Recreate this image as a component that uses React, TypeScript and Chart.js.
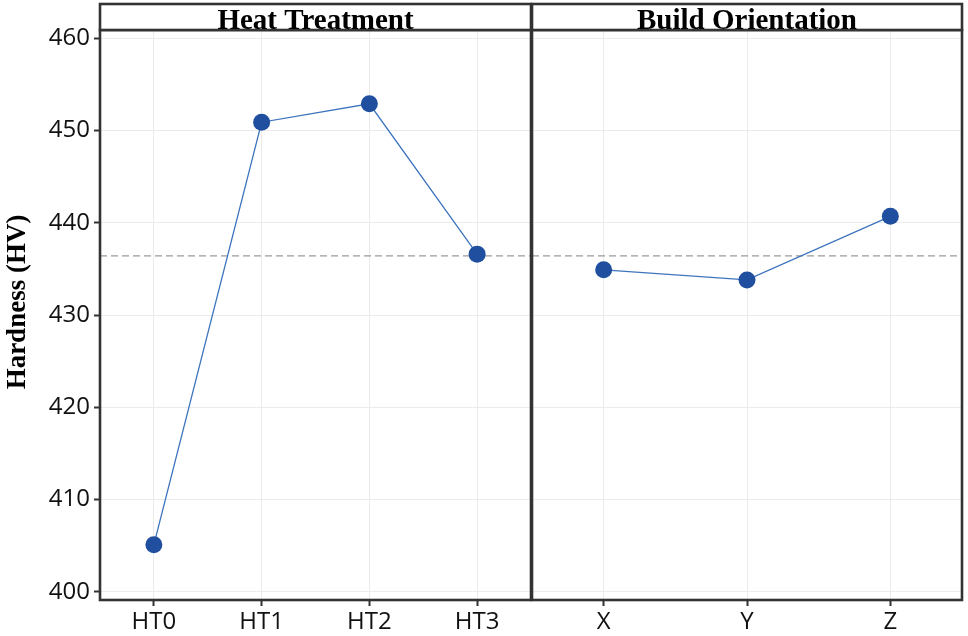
import React, { useEffect, useRef } from "react";
import { Chart, registerables } from "chart.js";

Chart.register(...registerables);

const heatCategories = ["HT0", "HT1", "HT2", "HT3"];
const heatValues = [405.1, 450.9, 452.9, 436.6];
const orientCategories = ["X", "Y", "Z"];
const orientValues = [434.9, 433.8, 440.7];
const grandMean = 436.4;
const yTickValues = [400, 410, 420, 430, 440, 450, 460];
const panelTitles = ["Heat Treatment", "Build Orientation"];
const yAxisTitle = "Hardness (HV)";

const Y_MIN = 399.1;
const Y_MAX = 460.9;
const FRAME = "#333333";
const GRID = "#ebebeb";
const LINE = "#3d74bd";
const POINT = "#1f4f9e";
const TICK_FONT = { family: "'Open Sans', 'Noto Sans', sans-serif", size: 24 };

function makePanelPlugin(title: string, drawYTitle: boolean) {
  return {
    id: "panel_" + title.replace(/\s/g, ""),
    beforeDatasetsDraw(chart: any) {
      const { ctx, chartArea, scales } = chart;
      const y = scales.y.getPixelForValue(grandMean);
      ctx.save();
      ctx.strokeStyle = "#9a9a9a";
      ctx.lineWidth = 1.3;
      ctx.setLineDash([7, 4]);
      ctx.beginPath();
      ctx.moveTo(chartArea.left, y);
      ctx.lineTo(chartArea.right, y);
      ctx.stroke();
      ctx.restore();
    },
    afterDraw(chart: any) {
      const { ctx, chartArea } = chart;
      const { left, right, top, bottom } = chartArea;
      ctx.save();
      ctx.strokeStyle = FRAME;
      ctx.lineWidth = 2.6;
      ctx.strokeRect(left, top, right - left, bottom - top);
      // strip
      ctx.fillStyle = "#ffffff";
      ctx.fillRect(left, 4, right - left, top - 4);
      ctx.strokeRect(left, 4, right - left, top - 4);
      ctx.fillStyle = "#000000";
      ctx.font = "bold 29px 'Liberation Serif', 'Times New Roman', serif";
      ctx.textAlign = "center";
      ctx.textBaseline = "alphabetic";
      ctx.fillText(title, (left + right) / 2, top - 1);
      if (drawYTitle) {
        ctx.translate(18, 302);
        ctx.rotate(-Math.PI / 2);
        ctx.font = "bold 27px 'Liberation Serif', 'Times New Roman', serif";
        ctx.textBaseline = "middle";
        ctx.fillText(yAxisTitle, 0, 0);
      }
      ctx.restore();
    },
  };
}

function makeConfig(labels: string[], values: number[], title: string, isLeft: boolean): any {
  return {
    type: "line",
    data: {
      labels,
      datasets: [
        {
          data: values,
          borderColor: LINE,
          borderWidth: 1.3,
          pointBackgroundColor: POINT,
          pointBorderColor: POINT,
          pointBorderWidth: 0,
          pointRadius: 8.5,
          tension: 0,
        },
      ],
    },
    options: {
      responsive: false,
      animation: false,
      devicePixelRatio: 1,
      layout: { autoPadding: false, padding: { top: 30, left: 0, right: isLeft ? 1 : 6, bottom: 0 } },
      plugins: { legend: { display: false }, tooltip: { enabled: false } },
      scales: {
        x: {
          type: "category",
          offset: true,
          border: { display: false },
          grid: { color: GRID, tickColor: FRAME, tickLength: 6, tickWidth: 2, offset: false },
          ticks: { font: TICK_FONT, color: "#111111", padding: 2, maxRotation: 0 },
          afterFit: (s: any) => {
            s.height = 36;
          },
        },
        y: {
          type: "linear",
          min: Y_MIN,
          max: Y_MAX,
          border: { display: false },
          afterBuildTicks: (s: any) => {
            s.ticks = yTickValues.map((v) => ({ value: v }));
          },
          grid: {
            color: GRID,
            tickColor: FRAME,
            tickLength: isLeft ? 6 : 0,
            tickWidth: 2,
            drawTicks: isLeft,
          },
          ticks: {
            display: isLeft,
            font: TICK_FONT,
            color: "#111111",
            padding: 4,
          },
          afterFit: (s: any) => {
            s.width = isLeft ? 100 : 2;
          },
        },
      },
    },
    plugins: [makePanelPlugin(title, isLeft)],
  };
}

export default function App() {
  const leftRef = useRef<HTMLCanvasElement>(null);
  const rightRef = useRef<HTMLCanvasElement>(null);

  useEffect(() => {
    const c1 = new Chart(leftRef.current!, makeConfig(heatCategories, heatValues, panelTitles[0], true));
    const c2 = new Chart(rightRef.current!, makeConfig(orientCategories, orientValues, panelTitles[1], false));
    return () => {
      c1.destroy();
      c2.destroy();
    };
  }, []);

  return (
    <div style={{ position: "fixed", left: 0, top: 0, width: 968, height: 636, background: "#ffffff" }}>
      <canvas ref={leftRef} width={532} height={636} style={{ position: "absolute", left: 0, top: 0 }} />
      <canvas ref={rightRef} width={438} height={636} style={{ position: "absolute", left: 530, top: 0 }} />
    </div>
  );
}
